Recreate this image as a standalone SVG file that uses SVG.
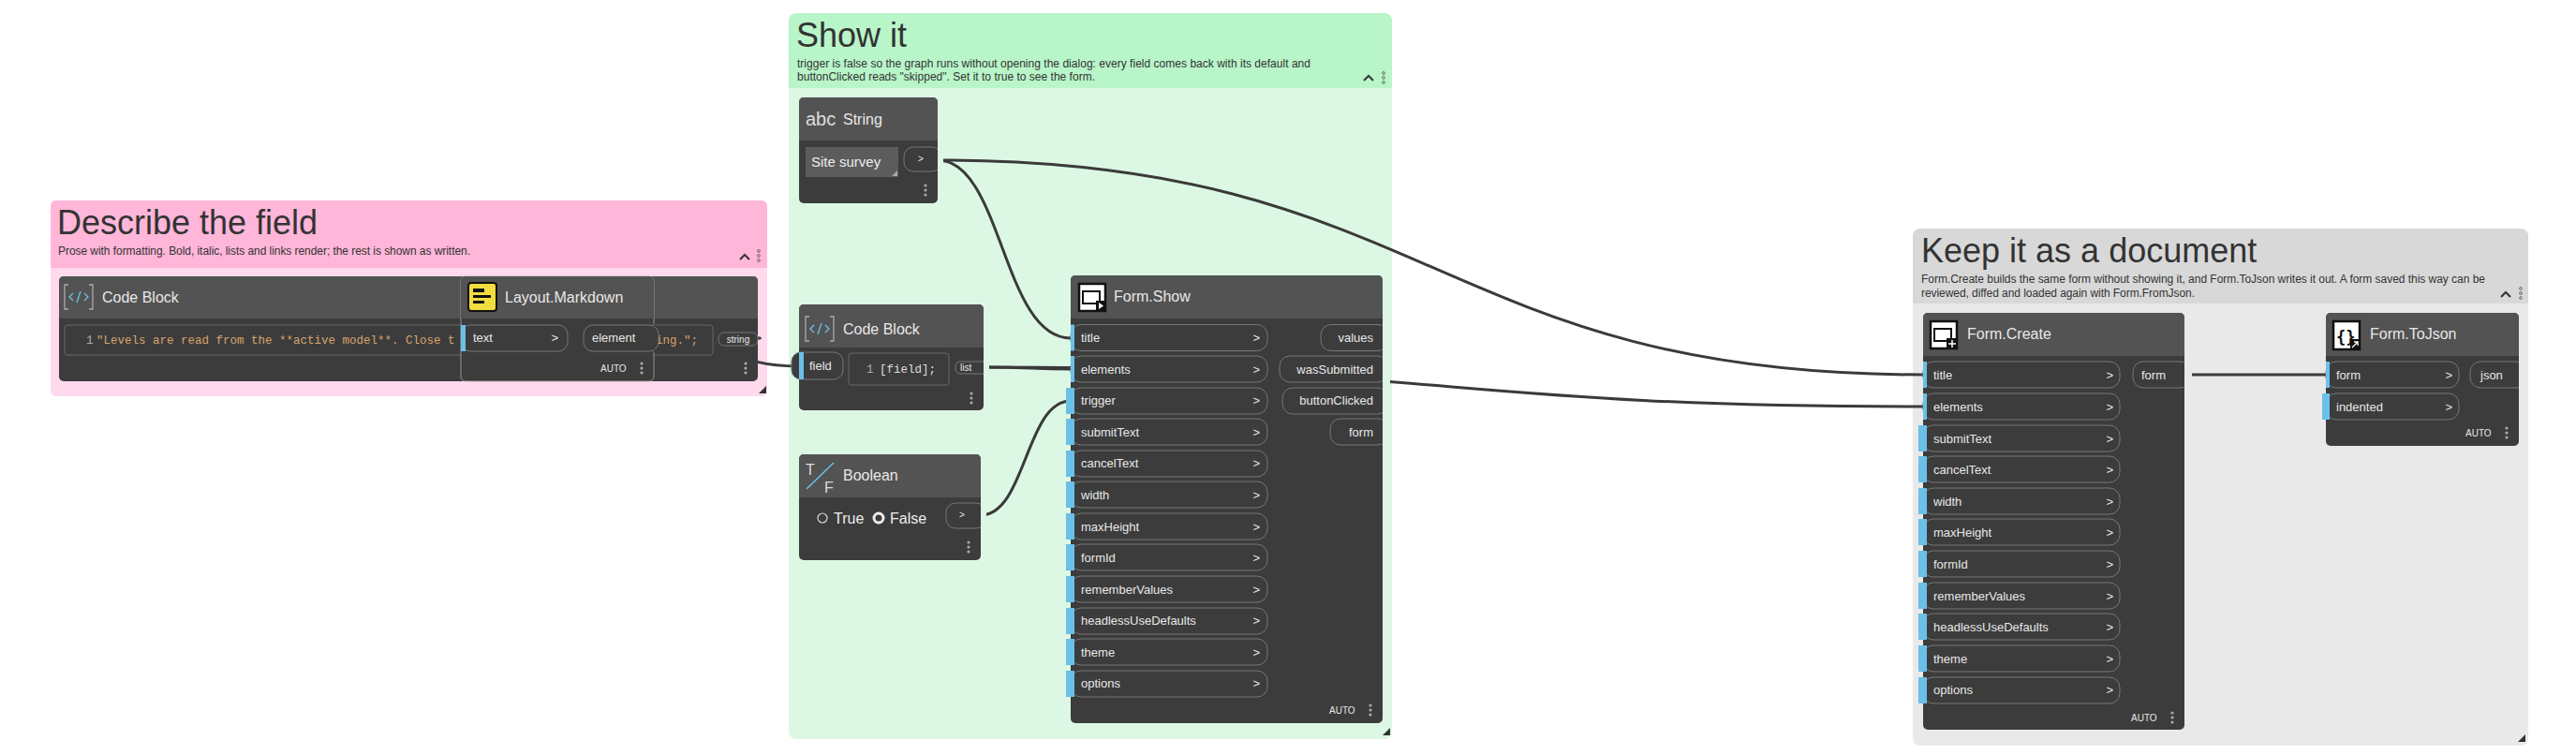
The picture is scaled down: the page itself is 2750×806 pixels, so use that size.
<svg xmlns="http://www.w3.org/2000/svg" width="2750" height="806" viewBox="0 0 2750 806">
<style>
.gt{font-family:"Liberation Sans",Arial,sans-serif;font-size:36px;fill:#333}
.gs{font-family:"Liberation Sans",Arial,sans-serif;font-size:12px;fill:#333}
.nh{fill:#535353}
.nb{fill:#3c3c3c}
.nt{font-family:"Liberation Sans",Arial,sans-serif;font-size:16px;fill:#e8e8e8}
.pt{font-family:"Liberation Sans",Arial,sans-serif;font-size:13px;fill:#e8e8e8}
.pill{fill:#3c3c3c;stroke:#777;stroke-width:1}
.blue{fill:#6ac0e7}
.auto{font-family:"Liberation Sans",Arial,sans-serif;font-size:10px;fill:#e8e8e8}
.dot{fill:#aaa}
.code{font-family:"Liberation Mono","Courier New",monospace;font-size:12.5px}
.wire{fill:none;stroke:#3a3a3a;stroke-width:3}
.chev{fill:none;stroke:#333;stroke-width:2}
</style>
<defs>
<g id="dots"><circle cx="0" cy="-5" r="1.6" class="dot"/><circle cx="0" cy="0" r="1.6" class="dot"/><circle cx="0" cy="5" r="1.6" class="dot"/></g>
<g id="gdots"><circle cx="0" cy="-5" r="1.4" fill="none" stroke="#555" stroke-width="0.8"/><circle cx="0" cy="0" r="1.4" fill="none" stroke="#555" stroke-width="0.8"/><circle cx="0" cy="5" r="1.4" fill="none" stroke="#555" stroke-width="0.8"/></g>
<clipPath id="codeclip"><rect x="69" y="347" width="422" height="32"/></clipPath>
</defs>

<!-- groups -->
<g id="group-describe">
<rect x="54" y="214" width="765" height="209" rx="6" fill="#ffd9ec"/>
<path d="M54,286 V220 a6,6 0 0 1 6,-6 H813 a6,6 0 0 1 6,6 V286 Z" fill="#ffb6d9"/>
<text x="61" y="250" class="gt">Describe the field</text>
<text x="62" y="272" class="gs" textLength="440">Prose with formatting. Bold, italic, lists and links render; the rest is shown as written.</text>
<polyline points="790,277 795,272 800,277" class="chev"/><use href="#gdots" x="810" y="273"/>
<polygon points="818,412 818,420 810,420" fill="#333"/>
</g>
<g id="group-show">
<rect x="842" y="14" width="644" height="775" rx="8" fill="#dcf8e4"/>
<path d="M842,94 V22 a8,8 0 0 1 8,-8 H1478 a8,8 0 0 1 8,8 V94 Z" fill="#b8f5c8"/>
<text x="850" y="50" class="gt">Show it</text>
<text x="851" y="72" class="gs" textLength="548">trigger is false so the graph runs without opening the dialog: every field comes back with its default and</text>
<text x="851" y="86" class="gs" textLength="318">buttonClicked reads "skipped". Set it to true to see the form.</text>
<polyline points="1456,86 1461,81 1466,86" class="chev"/><use href="#gdots" x="1477" y="83"/>
<polygon points="1484,777 1484,785 1476,785" fill="#333"/>
</g>
<g id="group-keep">
<rect x="2042" y="244" width="657" height="552" rx="8" fill="#e9e9e9"/>
<path d="M2042,324 V252 a8,8 0 0 1 8,-8 H2691 a8,8 0 0 1 8,8 V324 Z" fill="#d8d8d8"/>
<text x="2051" y="280" class="gt">Keep it as a document</text>
<text x="2051" y="302" class="gs" textLength="602">Form.Create builds the same form without showing it, and Form.ToJson writes it out. A form saved this way can be</text>
<text x="2051" y="317" class="gs" textLength="292">reviewed, diffed and loaded again with Form.FromJson.</text>
<polyline points="2670,317 2675,312 2680,317" class="chev"/><use href="#gdots" x="2691" y="313"/>
<polygon points="2696,784 2696,792 2688,792" fill="#333"/>
</g>

<!-- connectors -->
<g id="connectors">
<path class="wire" d="M809,361 C845,361 457,360 492,360"/>
<path class="wire" d="M698,360 C775,360 776,391 853,391"/>
<path class="wire" d="M1001,171 C1070,171 1070,361 1143,361"/>
<path class="wire" d="M1001,171 C1530,171 1530,400 2053,400"/>
<path class="wire" d="M1050,392 C1100,392 1100,394 1143,394"/>
<path class="wire" d="M1050,392 C1550,392 1550,434 2053,434"/>
<path class="wire" d="M1047,550 C1095,550 1095,428 1143,428"/>
<path class="wire" d="M2332,400 C2400,400 2415,400 2483,400"/>
</g>

<!-- pink code block -->
<g id="node-codeblock1">
<rect x="63" y="295" width="746" height="112" rx="5" class="nb"/>
<path d="M63,340 V300 a5,5 0 0 1 5,-5 H804 a5,5 0 0 1 5,5 V340 Z" class="nh"/>
<g fill="none" stroke="#aaa" stroke-width="1.3"><path d="M73,304 h-4 v26 h4 M95,304 h4 v26 h-4"/></g>
<g fill="none" stroke="#6ac0e7" stroke-width="1.3"><path d="M78,313 l-4,4 l4,4 M90,313 l4,4 l-4,4 M86,311 l-4,12"/></g>
<text x="109" y="323" class="nt">Code Block</text>
<rect x="69" y="347" width="692" height="32" rx="3" fill="#3c3c3c" stroke="#666"/>
<text x="92" y="367" class="code" fill="#aaa">1</text>
<text x="103" y="367" class="code" fill="#d9a46b" clip-path="url(#codeclip)">"Levels are read from the **active model**. Close t</text>
<text x="700" y="367" class="code" fill="#d9a46b">ing.";</text>
<rect x="767" y="355" width="42" height="14" rx="6" class="pill"/>
<text x="788" y="366" class="auto" text-anchor="middle">string</text>
<use href="#dots" x="796" y="393"/>
</g>

<g id="node-markdown">
<rect x="492" y="295" width="206" height="112" rx="5" class="nb" stroke="#aaa" stroke-width="0.8"/>
<path d="M492,340 V300 a5,5 0 0 1 5,-5 H693 a5,5 0 0 1 5,5 V340 Z" class="nh"/>
<rect x="500" y="302" width="30" height="30" rx="3" fill="#f1dd3f" stroke="#111" stroke-width="2"/>
<rect x="505" y="308" width="12" height="4" fill="#111"/><rect x="505" y="315" width="19" height="3" fill="#111"/><rect x="505" y="321" width="12" height="3" fill="#111"/>
<text x="539" y="323" class="nt">Layout.Markdown</text>
<rect x="492" y="347" width="114" height="28" rx="10" class="pill"/>
<rect x="492" y="347" width="5" height="28" class="blue"/>
<text x="505" y="365" class="pt">text</text><text x="596" y="365" class="pt" text-anchor="end">&gt;</text>
<rect x="623" y="347" width="80" height="28" rx="10" class="pill"/>
<rect x="698" y="346" width="1" height="30" fill="#3c3c3c"/>
<text x="632" y="365" class="pt">element</text>
<text x="641" y="397" class="auto">AUTO</text>
<use href="#dots" x="685" y="393"/>
</g>

<g id="node-string">
<rect x="853" y="104" width="148" height="113" rx="5" class="nb"/>
<path d="M853,150 V109 a5,5 0 0 1 5,-5 H996 a5,5 0 0 1 5,5 V150 Z" class="nh"/>
<text x="860" y="134" font-family="Liberation Sans,Arial,sans-serif" font-size="20" fill="#ddd">abc</text>
<text x="900" y="133" class="nt">String</text>
<rect x="860" y="157" width="99" height="32" fill="#5c5c5c"/>
<text x="866" y="178" font-family="Liberation Sans,Arial,sans-serif" font-size="15" fill="#eee">Site survey</text>
<polygon points="958,182 958,188 952,188" fill="#aaa"/>
<rect x="965" y="157" width="40" height="26" rx="10" class="pill"/>
<rect x="1001" y="156" width="6" height="28" fill="#dcf8e4"/>
<text x="980" y="173" class="auto">&gt;</text>
<use href="#dots" x="988" y="203"/>
</g>

<g id="node-codeblock2">
<rect x="853" y="325" width="197" height="113" rx="5" class="nb"/>
<path d="M853,371 V330 a5,5 0 0 1 5,-5 H1045 a5,5 0 0 1 5,5 V371 Z" class="nh"/>
<g fill="none" stroke="#aaa" stroke-width="1.3"><path d="M864,338 h-4 v26 h4 M886,338 h4 v26 h-4"/></g>
<g fill="none" stroke="#6ac0e7" stroke-width="1.3"><path d="M869,347 l-4,4 l4,4 M881,347 l4,4 l-4,4 M877,345 l-4,12"/></g>
<text x="900" y="357" class="nt">Code Block</text>
<rect x="845" y="376" width="55" height="29" rx="10" class="pill"/>
<rect x="853" y="376" width="5" height="29" class="blue"/>
<text x="864" y="395" class="pt">field</text>
<rect x="906" y="377" width="107" height="34" rx="3" fill="#3c3c3c" stroke="#666"/>
<text x="925" y="398" class="code" fill="#aaa">1</text>
<text x="939" y="398" class="code" fill="#ddd">[field];</text>
<rect x="1020" y="386" width="34" height="13" rx="5" class="pill"/>
<rect x="1050" y="385" width="6" height="15" fill="#dcf8e4"/>
<text x="1025" y="396" class="auto">list</text>
<use href="#dots" x="1037" y="425"/>
</g>

<g id="node-boolean">
<rect x="853" y="485" width="194" height="113" rx="5" class="nb"/>
<path d="M853,531 V490 a5,5 0 0 1 5,-5 H1042 a5,5 0 0 1 5,5 V531 Z" class="nh"/>
<text x="860" y="507" font-family="Liberation Sans,Arial,sans-serif" font-size="16" fill="#ddd">T</text>
<line x1="861" y1="522" x2="890" y2="494" stroke="#6ac0e7" stroke-width="1.5"/>
<text x="880" y="526" font-family="Liberation Sans,Arial,sans-serif" font-size="16" fill="#ddd">F</text>
<text x="900" y="513" class="nt">Boolean</text>
<circle cx="878" cy="553" r="5" fill="none" stroke="#ddd" stroke-width="1.2"/>
<text x="890" y="559" font-family="Liberation Sans,Arial,sans-serif" font-size="16" fill="#eee">True</text>
<circle cx="938" cy="553" r="5" fill="none" stroke="#eee" stroke-width="3"/>
<text x="950" y="559" font-family="Liberation Sans,Arial,sans-serif" font-size="16" fill="#eee">False</text>
<rect x="1010" y="537" width="42" height="27" rx="10" class="pill"/>
<rect x="1047" y="536" width="6" height="29" fill="#dcf8e4"/>
<text x="1024" y="553" class="auto">&gt;</text>
<use href="#dots" x="1034" y="584"/>
</g>

<g id="node-formshow">
<rect x="1143" y="294" width="333" height="478" rx="5" class="nb"/>
<path d="M1143,340 V299 a5,5 0 0 1 5,-5 H1471 a5,5 0 0 1 5,5 V340 Z" class="nh"/>
<rect x="1152" y="303" width="28" height="29" fill="#fff" stroke="#111" stroke-width="2.5"/>
<rect x="1156" y="311" width="18" height="13" fill="#fff" stroke="#111" stroke-width="2"/>
<rect x="1170" y="321" width="10" height="11" fill="#111"/><polygon points="1173,323 1173,330 1178,326.5" fill="#fff"/>
<text x="1189" y="322" class="nt">Form.Show</text>
<g id="fs-inputs">
<rect x="1143" y="346.5" width="210" height="28" rx="11" class="pill"/><rect x="1143" y="346.5" width="4" height="28" class="blue"/><text x="1154" y="365" class="pt">title</text><text x="1345" y="365" class="pt" text-anchor="end">&gt;</text>
<rect x="1143" y="380" width="210" height="28" rx="11" class="pill"/><rect x="1143" y="380" width="4" height="28" class="blue"/><text x="1154" y="399" class="pt">elements</text><text x="1345" y="399" class="pt" text-anchor="end">&gt;</text>
<rect x="1143" y="414" width="210" height="28" rx="11" class="pill"/><rect x="1138" y="414" width="9" height="28" class="blue"/><text x="1154" y="432" class="pt">trigger</text><text x="1345" y="432" class="pt" text-anchor="end">&gt;</text>
<rect x="1143" y="447" width="210" height="28" rx="11" class="pill"/><rect x="1138" y="447" width="9" height="28" class="blue"/><text x="1154" y="466" class="pt">submitText</text><text x="1345" y="466" class="pt" text-anchor="end">&gt;</text>
<rect x="1143" y="481" width="210" height="28" rx="11" class="pill"/><rect x="1138" y="481" width="9" height="28" class="blue"/><text x="1154" y="499" class="pt">cancelText</text><text x="1345" y="499" class="pt" text-anchor="end">&gt;</text>
<rect x="1143" y="514" width="210" height="28" rx="11" class="pill"/><rect x="1138" y="514" width="9" height="28" class="blue"/><text x="1154" y="533" class="pt">width</text><text x="1345" y="533" class="pt" text-anchor="end">&gt;</text>
<rect x="1143" y="548" width="210" height="28" rx="11" class="pill"/><rect x="1138" y="548" width="9" height="28" class="blue"/><text x="1154" y="567" class="pt">maxHeight</text><text x="1345" y="567" class="pt" text-anchor="end">&gt;</text>
<rect x="1143" y="581" width="210" height="28" rx="11" class="pill"/><rect x="1138" y="581" width="9" height="28" class="blue"/><text x="1154" y="600" class="pt">formId</text><text x="1345" y="600" class="pt" text-anchor="end">&gt;</text>
<rect x="1143" y="615" width="210" height="28" rx="11" class="pill"/><rect x="1138" y="615" width="9" height="28" class="blue"/><text x="1154" y="634" class="pt">rememberValues</text><text x="1345" y="634" class="pt" text-anchor="end">&gt;</text>
<rect x="1143" y="649" width="210" height="28" rx="11" class="pill"/><rect x="1138" y="649" width="9" height="28" class="blue"/><text x="1154" y="667" class="pt">headlessUseDefaults</text><text x="1345" y="667" class="pt" text-anchor="end">&gt;</text>
<rect x="1143" y="682" width="210" height="28" rx="11" class="pill"/><rect x="1138" y="682" width="9" height="28" class="blue"/><text x="1154" y="701" class="pt">theme</text><text x="1345" y="701" class="pt" text-anchor="end">&gt;</text>
<rect x="1143" y="716" width="210" height="28" rx="11" class="pill"/><rect x="1138" y="716" width="9" height="28" class="blue"/><text x="1154" y="734" class="pt">options</text><text x="1345" y="734" class="pt" text-anchor="end">&gt;</text>
</g>
<g id="fs-outputs">
<rect x="1410" y="346.5" width="72" height="28" rx="11" class="pill"/>
<rect x="1366" y="380" width="116" height="28" rx="11" class="pill"/>
<rect x="1369" y="414" width="113" height="28" rx="11" class="pill"/>
<rect x="1420" y="447" width="62" height="28" rx="11" class="pill"/>
<rect x="1476" y="345" width="8" height="132" fill="#dcf8e4"/>
<text x="1466" y="365" class="pt" text-anchor="end">values</text>
<text x="1466" y="399" class="pt" text-anchor="end">wasSubmitted</text>
<text x="1466" y="432" class="pt" text-anchor="end">buttonClicked</text>
<text x="1466" y="466" class="pt" text-anchor="end">form</text>
</g>
<text x="1419" y="762" class="auto">AUTO</text>
<use href="#dots" x="1463" y="758"/>
</g>

<g id="node-formcreate">
<rect x="2053" y="334" width="279" height="445" rx="5" class="nb"/>
<path d="M2053,380 V339 a5,5 0 0 1 5,-5 H2327 a5,5 0 0 1 5,5 V380 Z" class="nh"/>
<rect x="2061" y="343" width="28" height="29" fill="#fff" stroke="#111" stroke-width="2.5"/>
<rect x="2065" y="351" width="18" height="13" fill="#fff" stroke="#111" stroke-width="2"/>
<rect x="2078" y="361" width="12" height="12" fill="#111"/><path d="M2084,363 v8 M2080,367 h8" stroke="#fff" stroke-width="1.5"/>
<text x="2100" y="362" class="nt">Form.Create</text>
<g id="fc-inputs">
<rect x="2053" y="386" width="210" height="28" rx="11" class="pill"/><rect x="2053" y="386" width="4" height="28" class="blue"/><text x="2064" y="405" class="pt">title</text><text x="2256" y="405" class="pt" text-anchor="end">&gt;</text>
<rect x="2053" y="420" width="210" height="28" rx="11" class="pill"/><rect x="2053" y="420" width="4" height="28" class="blue"/><text x="2064" y="439" class="pt">elements</text><text x="2256" y="439" class="pt" text-anchor="end">&gt;</text>
<rect x="2053" y="454" width="210" height="28" rx="11" class="pill"/><rect x="2048" y="454" width="9" height="28" class="blue"/><text x="2064" y="473" class="pt">submitText</text><text x="2256" y="473" class="pt" text-anchor="end">&gt;</text>
<rect x="2053" y="487" width="210" height="28" rx="11" class="pill"/><rect x="2048" y="487" width="9" height="28" class="blue"/><text x="2064" y="506" class="pt">cancelText</text><text x="2256" y="506" class="pt" text-anchor="end">&gt;</text>
<rect x="2053" y="521" width="210" height="28" rx="11" class="pill"/><rect x="2048" y="521" width="9" height="28" class="blue"/><text x="2064" y="540" class="pt">width</text><text x="2256" y="540" class="pt" text-anchor="end">&gt;</text>
<rect x="2053" y="554" width="210" height="28" rx="11" class="pill"/><rect x="2048" y="554" width="9" height="28" class="blue"/><text x="2064" y="573" class="pt">maxHeight</text><text x="2256" y="573" class="pt" text-anchor="end">&gt;</text>
<rect x="2053" y="588" width="210" height="28" rx="11" class="pill"/><rect x="2048" y="588" width="9" height="28" class="blue"/><text x="2064" y="607" class="pt">formId</text><text x="2256" y="607" class="pt" text-anchor="end">&gt;</text>
<rect x="2053" y="622" width="210" height="28" rx="11" class="pill"/><rect x="2048" y="622" width="9" height="28" class="blue"/><text x="2064" y="641" class="pt">rememberValues</text><text x="2256" y="641" class="pt" text-anchor="end">&gt;</text>
<rect x="2053" y="655" width="210" height="28" rx="11" class="pill"/><rect x="2048" y="655" width="9" height="28" class="blue"/><text x="2064" y="674" class="pt">headlessUseDefaults</text><text x="2256" y="674" class="pt" text-anchor="end">&gt;</text>
<rect x="2053" y="689" width="210" height="28" rx="11" class="pill"/><rect x="2048" y="689" width="9" height="28" class="blue"/><text x="2064" y="708" class="pt">theme</text><text x="2256" y="708" class="pt" text-anchor="end">&gt;</text>
<rect x="2053" y="723" width="210" height="28" rx="11" class="pill"/><rect x="2048" y="723" width="9" height="28" class="blue"/><text x="2064" y="741" class="pt">options</text><text x="2256" y="741" class="pt" text-anchor="end">&gt;</text>
</g>
<rect x="2277" y="386" width="62" height="28" rx="11" class="pill"/>
<rect x="2332" y="385" width="8" height="30" fill="#e9e9e9"/>
<text x="2286" y="405" class="pt">form</text>
<text x="2275" y="770" class="auto">AUTO</text>
<use href="#dots" x="2319" y="766"/>
</g>

<g id="node-formtojson">
<rect x="2483" y="334" width="206" height="142" rx="5" class="nb"/>
<path d="M2483,380 V339 a5,5 0 0 1 5,-5 H2684 a5,5 0 0 1 5,5 V380 Z" class="nh"/>
<rect x="2491" y="343" width="28" height="30" fill="#fff" stroke="#111" stroke-width="2.5"/>
<text x="2494" y="366" font-family="DejaVu Sans Mono,monospace" font-size="17" font-weight="bold" fill="#111">{}</text>
<rect x="2509" y="362" width="11" height="11" fill="#111"/><path d="M2511,371 l6,-6 M2513,365 h4 v4" stroke="#fff" stroke-width="1.3" fill="none"/>
<text x="2530" y="362" class="nt">Form.ToJson</text>
<rect x="2483" y="386" width="142" height="28" rx="11" class="pill"/><rect x="2483" y="386" width="4" height="28" class="blue"/><text x="2494" y="405" class="pt">form</text><text x="2618" y="405" class="pt" text-anchor="end">&gt;</text>
<rect x="2483" y="420" width="142" height="28" rx="11" class="pill"/><rect x="2479" y="420" width="8" height="28" class="blue"/><text x="2494" y="439" class="pt">indented</text><text x="2618" y="439" class="pt" text-anchor="end">&gt;</text>
<rect x="2637" y="386" width="60" height="28" rx="11" class="pill"/>
<rect x="2689" y="385" width="9" height="30" fill="#e9e9e9"/>
<text x="2648" y="405" class="pt">json</text>
<text x="2632" y="466" class="auto">AUTO</text>
<use href="#dots" x="2676" y="462"/>
</g>
</svg>
